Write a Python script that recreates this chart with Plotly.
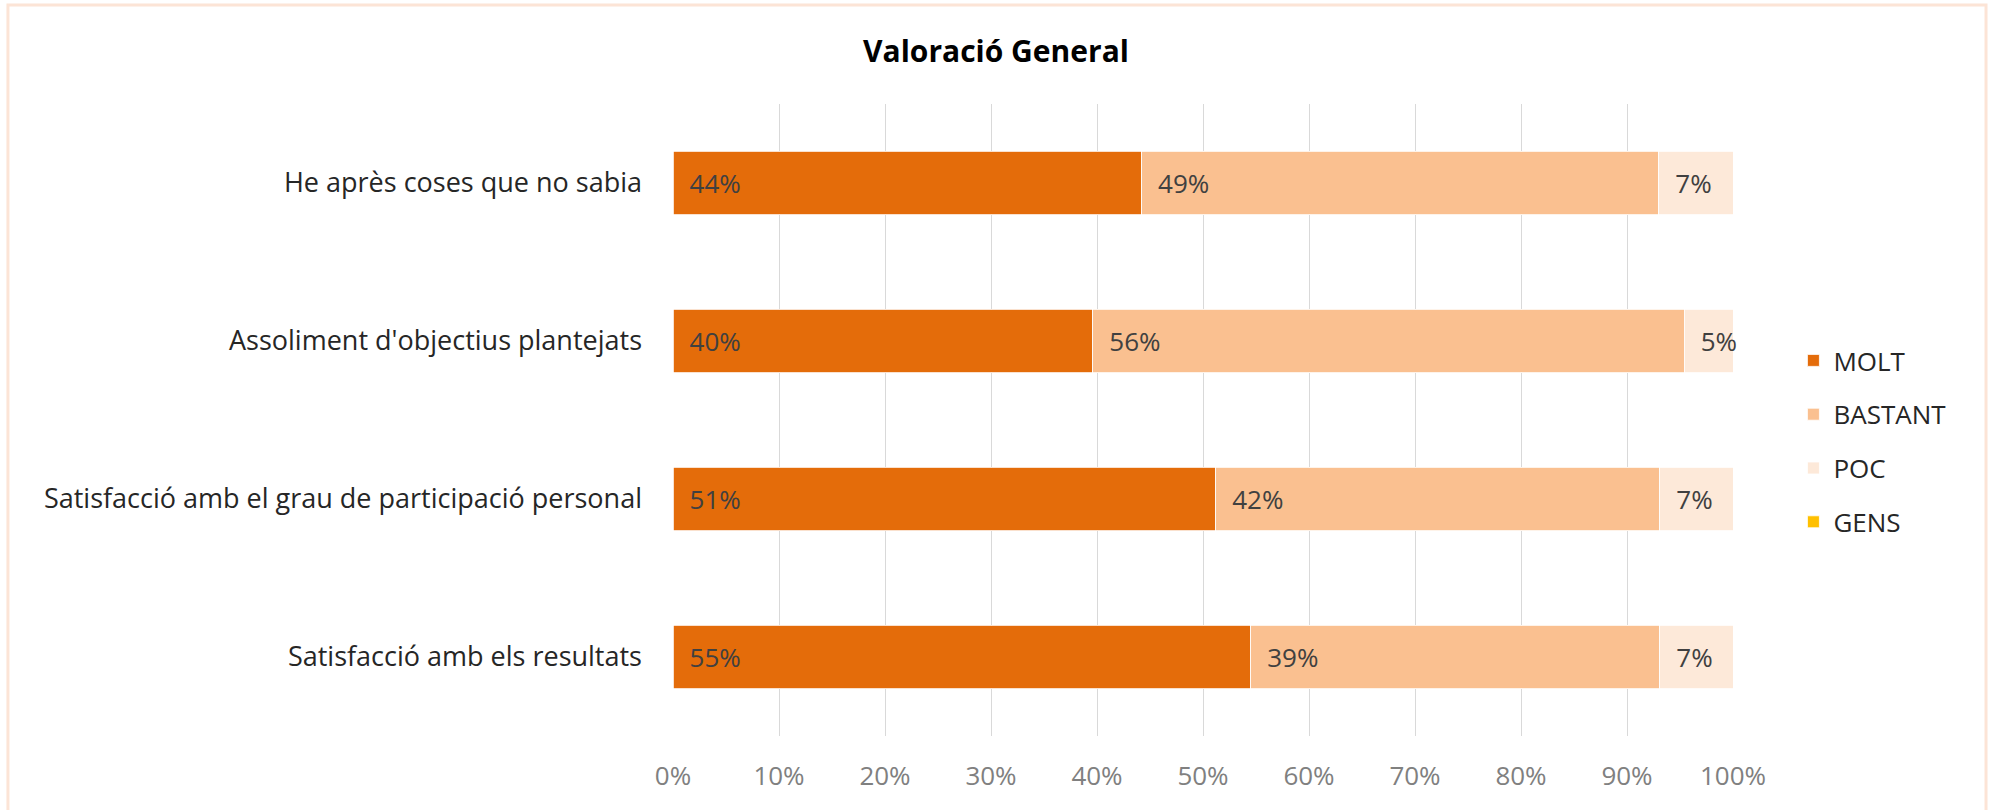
import plotly.graph_objects as go

# survey items, top to bottom
categories = [
    "He après coses que no sabia",
    "Assoliment d'objectius plantejats",
    "Satisfacció amb el grau de participació personal",
    "Satisfacció amb els resultats",
]
molt = [44.2, 39.6, 51.2, 54.5]
bastant = [48.8, 55.8, 41.9, 38.6]
poc = [7.0, 4.6, 6.9, 6.9]
gens = [0, 0, 0, 0]

series = [
    ("MOLT", molt, "#E46C0A"),
    ("BASTANT", bastant, "#FAC090"),
    ("POC", poc, "#FDE9D9"),
    ("GENS", gens, "#FFC000"),
]

FONT = "Open Sans"

fig = go.Figure()
for i, (name, vals, color) in enumerate(series):
    show_text = name != "GENS"
    fig.add_trace(go.Bar(
        name=name,
        y=categories,
        x=vals,
        orientation="h",
        marker=dict(color=color, line=dict(color="white", width=0.8)),
        texttemplate="\u00a0\u00a0%{x:.0f}%" if show_text else None,
        textposition="inside" if show_text else "none",
        insidetextanchor="start",
        textangle=0,
        constraintext="none",
        cliponaxis=False,
        textfont=dict(family=FONT, size=26, color="#404040"),
        legendgroup=str(i),
        hoverinfo="x+name",
    ))

fig.update_layout(
    barmode="stack",
    bargap=0.6,
    width=1992,
    height=810,
    paper_bgcolor="white",
    plot_bgcolor="white",
    margin=dict(l=673, r=259, t=104, b=74, autoexpand=False),
    title=dict(
        text="<b>Valoració General</b>",
        x=0.5,
        xanchor="center",
        y=1 - 51 / 810,
        yanchor="middle",
        font=dict(family=FONT, size=30, color="#000000"),
    ),
    legend=dict(
        x=1.057,
        xanchor="left",
        y=0.466,
        yanchor="middle",
        traceorder="grouped",
        tracegroupgap=17,
        font=dict(family=FONT, size=26, color="#262626"),
        itemclick=False,
    ),
    font=dict(family=FONT),
    shapes=[dict(
        type="rect",
        xref="paper",
        yref="paper",
        x0=-0.6274,
        x1=1.2387,
        y0=-0.125,
        y1=1.1566,
        line=dict(color="#FCE4D6", width=3),
        fillcolor="rgba(0,0,0,0)",
        layer="below",
    )],
)

fig.update_xaxes(
    range=[0, 100],
    tickvals=[0, 10, 20, 30, 40, 50, 60, 70, 80, 90, 100],
    ticktext=["0%", "10%", "20%", "30%", "40%", "50%", "60%", "70%", "80%", "90%", "100%"],
    showgrid=True,
    gridcolor="#D9D9D9",
    gridwidth=1.3,
    zeroline=False,
    showline=False,
    ticks="",
    ticklabelstandoff=22,
    tickfont=dict(family=FONT, size=26, color="#808080"),
    automargin=False,
)
fig.update_yaxes(
    categoryorder="array",
    categoryarray=categories[::-1],
    showgrid=False,
    zeroline=False,
    showline=False,
    ticks="",
    ticklabelstandoff=30,
    tickfont=dict(family=FONT, size=27, color="#262626"),
    automargin=False,
)

# drop the browser's default body margin so the figure sits at the page corner
fig.write_html(
    "out.html",
    config={"displayModeBar": False},
    post_script="document.body.style.margin='0';",
)
